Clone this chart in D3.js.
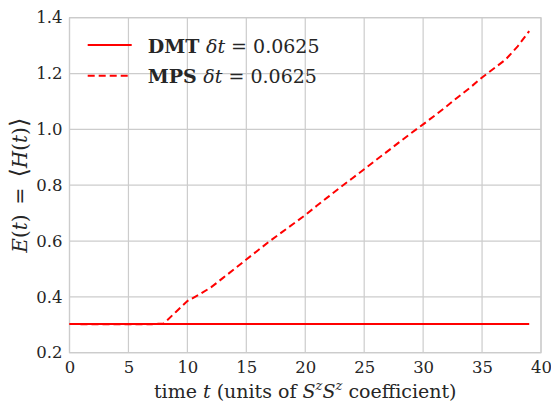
<!DOCTYPE html>
<html>
<head>
<meta charset="utf-8">
<script src="https://cdn.jsdelivr.net/npm/d3@7"></script>
<style>
    body { margin: 0; background: #fff; }
    svg text { font-family: 'DejaVu Serif', 'Liberation Serif', 'Times New Roman', 'Noto Serif', serif; }
</style>
</head>
<body>
<div id="chart"></div>
<script>
// time axis (units of SzSz coefficient)
const times = [0, 1, 2, 3, 4, 5, 6, 7, 8, 9, 10, 11, 12, 13, 14, 15, 16, 17, 18, 19,
    20, 21, 22, 23, 24, 25, 26, 27, 28, 29, 30, 31, 32, 33, 34, 35, 36, 37, 38, 39];

// DMT, dt = 0.0625 : stays flat
const dmtEnergy = [0.303, 0.303, 0.303, 0.303, 0.303, 0.303, 0.303, 0.303, 0.303, 0.303,
    0.303, 0.303, 0.303, 0.303, 0.303, 0.303, 0.303, 0.303, 0.303, 0.303,
    0.303, 0.303, 0.303, 0.303, 0.303, 0.303, 0.303, 0.303, 0.303, 0.303,
    0.303, 0.303, 0.303, 0.303, 0.303, 0.303, 0.303, 0.303, 0.303, 0.303];

// MPS, dt = 0.0625 : flat then grows
const mpsEnergy = [0.303, 0.302, 0.302, 0.302, 0.302, 0.302, 0.302, 0.302, 0.305, 0.345,
    0.385, 0.408, 0.434, 0.467, 0.500, 0.534, 0.567, 0.600, 0.631, 0.662,
    0.693, 0.727, 0.760, 0.793, 0.825, 0.857, 0.890, 0.922, 0.955, 0.987,
    1.018, 1.050, 1.083, 1.117, 1.150, 1.186, 1.218, 1.250, 1.296, 1.352];

const xTicks = [0, 5, 10, 15, 20, 25, 30, 35, 40];
const yTicks = [0.2, 0.4, 0.6, 0.8, 1.0, 1.2, 1.4];

const margin = { top: 17.7, right: 10, bottom: 52.3, left: 69.5 };
const width = 551 - margin.left - margin.right;
const height = 405 - margin.top - margin.bottom;
const textColor = '#262626';
const gridColor = '#cccccc';

const svg = d3.select('#chart').append('svg')
    .attr('width', 551)
    .attr('height', 405)
    .append('g')
    .attr('transform', `translate(${margin.left},${margin.top})`);

const x = d3.scaleLinear().domain([0, 40]).range([0, width]);
const y = d3.scaleLinear().domain([0.2, 1.4]).range([height, 0]);

// grid lines
svg.append('g')
    .selectAll('line')
    .data(xTicks)
    .join('line')
    .attr('x1', d => x(d)).attr('x2', d => x(d))
    .attr('y1', 0).attr('y2', height)
    .attr('stroke', gridColor)
    .attr('stroke-width', 1.2);

svg.append('g')
    .selectAll('line')
    .data(yTicks)
    .join('line')
    .attr('x1', 0).attr('x2', width)
    .attr('y1', d => y(d)).attr('y2', d => y(d))
    .attr('stroke', gridColor)
    .attr('stroke-width', 1.2);

// frame
svg.append('rect')
    .attr('width', width)
    .attr('height', height)
    .attr('fill', 'none')
    .attr('stroke', gridColor)
    .attr('stroke-width', 1.2);

// axes (labels only, no tick marks)
const xAxis = svg.append('g')
    .attr('transform', `translate(0,${height})`)
    .call(d3.axisBottom(x).tickValues(xTicks).tickFormat(d3.format('d')).tickSize(0).tickPadding(9));

const yAxis = svg.append('g')
    .call(d3.axisLeft(y).tickValues(yTicks).tickFormat(d3.format('.1f')).tickSize(0).tickPadding(7));

[xAxis, yAxis].forEach(a => {
    a.attr('font-family', null);
    a.select('.domain').remove();
    a.selectAll('text')
        .attr('font-size', 16.5)
        .attr('fill', textColor);
});

// series
const line = d3.line()
    .x((d, i) => x(times[i]))
    .y(d => y(d));

svg.append('path')
    .datum(dmtEnergy)
    .attr('fill', 'none')
    .attr('stroke', '#ff0000')
    .attr('stroke-width', 2)
    .attr('d', line);

svg.append('path')
    .datum(mpsEnergy)
    .attr('fill', 'none')
    .attr('stroke', '#ff0000')
    .attr('stroke-width', 2)
    .attr('stroke-dasharray', '7,4')
    .attr('d', line);

// axis titles
const xLabel = svg.append('text')
    .attr('x', width / 2)
    .attr('y', height + 45)
    .attr('text-anchor', 'middle')
    .attr('font-size', 19)
    .attr('fill', textColor);
xLabel.append('tspan').text('time ');
xLabel.append('tspan').attr('font-style', 'italic').text('t');
xLabel.append('tspan').text(' (units of ');
xLabel.append('tspan').attr('font-style', 'italic').text('S');
xLabel.append('tspan').attr('font-style', 'italic').attr('font-size', 13).attr('dy', -8).text('z');
xLabel.append('tspan').attr('font-style', 'italic').attr('dy', 8).text('S');
xLabel.append('tspan').attr('font-style', 'italic').attr('font-size', 13).attr('dy', -8).text('z');
xLabel.append('tspan').attr('dy', 8).text(' coefficient)');

const yLabel = svg.append('text')
    .attr('transform', `translate(${-margin.left + 27},${height / 2}) rotate(-90)`)
    .attr('text-anchor', 'middle')
    .attr('font-size', 20)
    .attr('fill', textColor);
yLabel.append('tspan').attr('font-style', 'italic').text('E');
yLabel.append('tspan').text('(');
yLabel.append('tspan').attr('font-style', 'italic').text('t');
yLabel.append('tspan').text(')\u2002=\u2002');
yLabel.append('tspan').attr('font-size', 24).text('\u27E8');
yLabel.append('tspan').attr('font-style', 'italic').text('H');
yLabel.append('tspan').text('(');
yLabel.append('tspan').attr('font-style', 'italic').text('t');
yLabel.append('tspan').text(')');
yLabel.append('tspan').attr('font-size', 24).text('\u27E9');

// legend
const legendItems = [
    { name: 'DMT', dash: null },
    { name: 'MPS', dash: '7,4' }
];

const legend = svg.append('g')
    .attr('transform', `translate(${87.7 - margin.left},${45 - margin.top})`);

legendItems.forEach((item, i) => {
    const row = legend.append('g').attr('transform', `translate(0,${i * 30.7})`);
    row.append('line')
        .attr('x1', 0).attr('x2', 44)
        .attr('y1', 0).attr('y2', 0)
        .attr('stroke', '#ff0000')
        .attr('stroke-width', 2)
        .attr('stroke-dasharray', item.dash);
    const t = row.append('text')
        .attr('x', 60)
        .attr('y', 7.5)
        .attr('font-size', 19)
        .attr('fill', textColor);
    t.append('tspan').attr('font-weight', 'bold').text(item.name + ' ');
    t.append('tspan').attr('font-style', 'italic').text('\u03B4t');
    t.append('tspan').text(' = 0.0625');
});
</script>
</body>
</html>
